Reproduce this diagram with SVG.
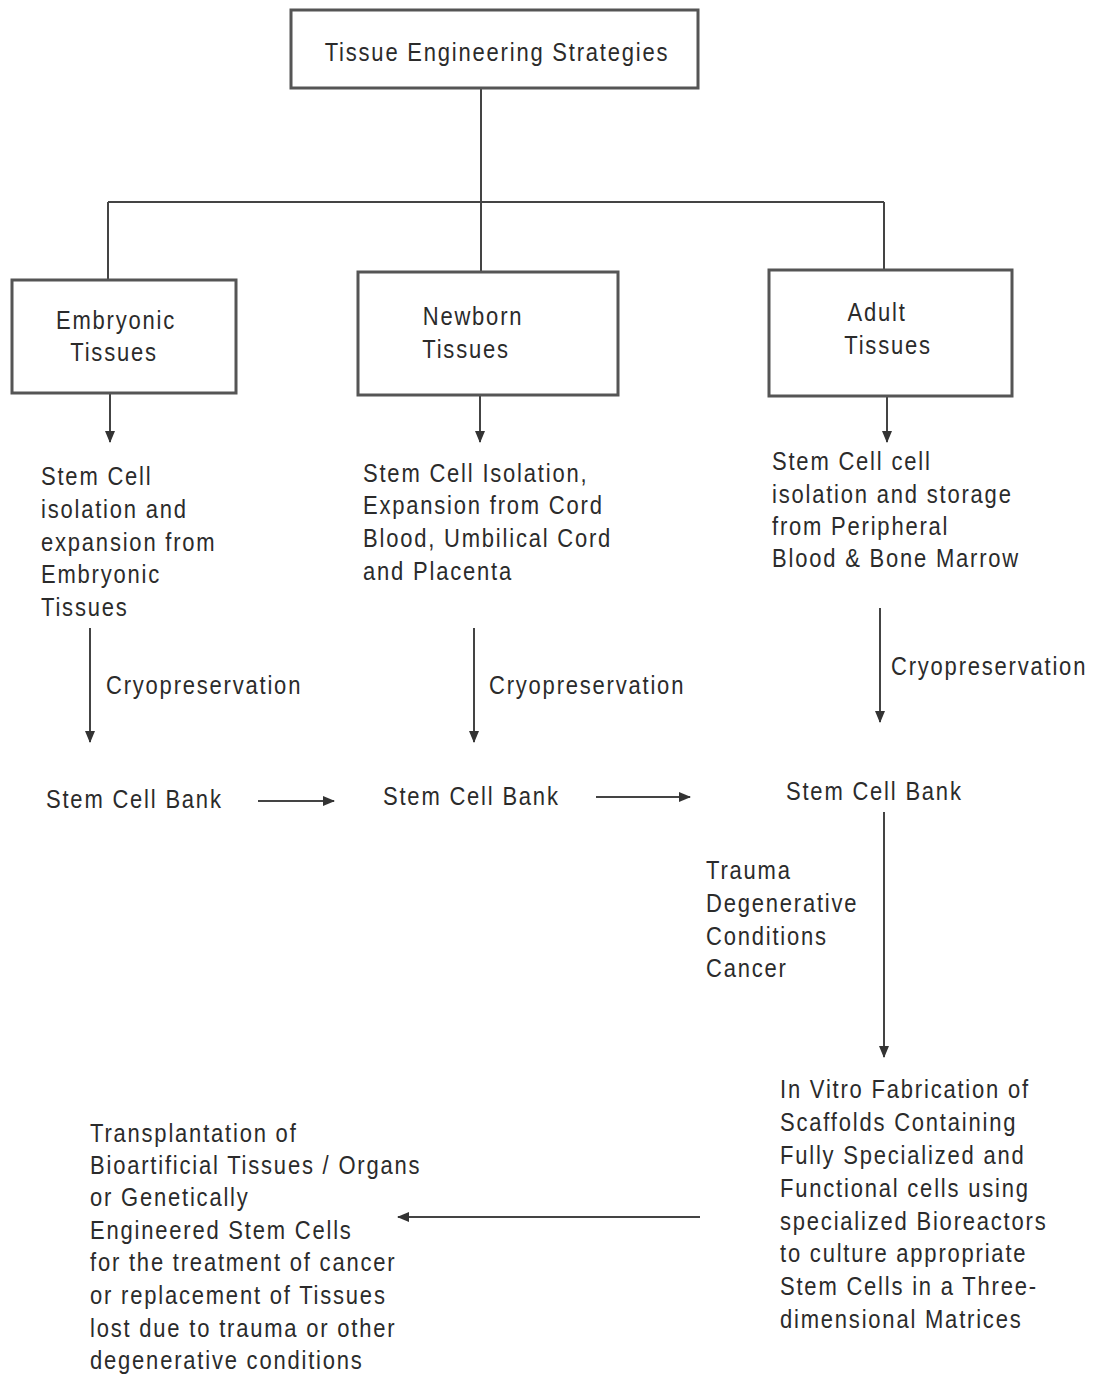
<svg xmlns="http://www.w3.org/2000/svg" width="1094" height="1376" viewBox="0 0 1094 1376">
<defs>
<style>
text{font-family:"Liberation Sans",Arial,sans-serif;font-size:22px;letter-spacing:1.8px;fill:#2b2b2b;}
.m{text-anchor:middle;}
.box{fill:#fff;stroke:#555;stroke-width:3;}
.ln{fill:none;stroke:#444;stroke-width:2;}
.ar{fill:none;stroke:#444;stroke-width:2;marker-end:url(#ah);}
</style>
<marker id="ah" markerWidth="12" markerHeight="10" refX="11" refY="5" orient="auto" markerUnits="userSpaceOnUse">
<path d="M0,0 L12,5 L0,10 Z" fill="#333"/>
</marker>
</defs>
<rect width="1094" height="1376" fill="#fff"/>
<g id="connectors">
<path class="ln" d="M481,88 V202 M108,202 H884 M108,202 V280 M481,202 V272 M884,202 V270"/>
<path class="ar" d="M110,393 V442"/>
<path class="ar" d="M480,395 V442"/>
<path class="ar" d="M887,396 V442"/>
<path class="ar" d="M90,628 V742"/>
<path class="ar" d="M474,628 V742"/>
<path class="ar" d="M880,608 V722"/>
<path class="ar" d="M258,801 H334"/>
<path class="ar" d="M596,797 H690"/>
<path class="ar" d="M884,812 V1057"/>
<path class="ar" d="M700,1217 H398"/>
</g>
<g id="top">
<rect class="box" x="291" y="10" width="407" height="78"/>
<text class="m" transform="translate(497,61) scale(1,1.15)">Tissue Engineering Strategies</text>
</g>
<g id="embryonic">
<rect class="box" x="12" y="280" width="224" height="113"/>
<text class="m" transform="translate(116,329) scale(1,1.15)">Embryonic</text>
<text class="m" transform="translate(114,361) scale(1,1.15)">Tissues</text>
</g>
<g id="newborn">
<rect class="box" x="358" y="272" width="260" height="123"/>
<text class="m" transform="translate(473,325) scale(1,1.15)">Newborn</text>
<text class="m" transform="translate(466,358) scale(1,1.15)">Tissues</text>
</g>
<g id="adult">
<rect class="box" x="769" y="270" width="243" height="126"/>
<text class="m" transform="translate(877,321) scale(1,1.15)">Adult</text>
<text class="m" transform="translate(888,354) scale(1,1.15)">Tissues</text>
</g>
<g id="embryonic-isolation">
<text transform="translate(41,485) scale(1,1.15)">Stem Cell</text>
<text transform="translate(41,518) scale(1,1.15)">isolation and</text>
<text transform="translate(41,551) scale(1,1.15)">expansion from</text>
<text transform="translate(41,583) scale(1,1.15)">Embryonic</text>
<text transform="translate(41,616) scale(1,1.15)">Tissues</text>
</g>
<g id="newborn-isolation">
<text transform="translate(363,482) scale(1,1.15)">Stem Cell Isolation,</text>
<text transform="translate(363,514) scale(1,1.15)">Expansion from Cord</text>
<text transform="translate(363,547) scale(1,1.15)">Blood, Umbilical Cord</text>
<text transform="translate(363,580) scale(1,1.15)">and Placenta</text>
</g>
<g id="adult-isolation">
<text transform="translate(772,470) scale(1,1.15)">Stem Cell cell</text>
<text transform="translate(772,503) scale(1,1.15)">isolation and storage</text>
<text transform="translate(772,535) scale(1,1.15)">from Peripheral</text>
<text transform="translate(772,567) scale(1,1.15)">Blood &amp; Bone Marrow</text>
</g>
<g id="cryo-labels">
<text transform="translate(106,694) scale(1,1.15)">Cryopreservation</text>
<text transform="translate(489,694) scale(1,1.15)">Cryopreservation</text>
<text transform="translate(891,675) scale(1,1.15)">Cryopreservation</text>
</g>
<g id="bank1"><text transform="translate(46,808) scale(1,1.15)">Stem Cell Bank</text></g>
<g id="bank2"><text transform="translate(383,805) scale(1,1.15)">Stem Cell Bank</text></g>
<g id="bank3"><text transform="translate(786,800) scale(1,1.15)">Stem Cell Bank</text></g>
<g id="conditions">
<text transform="translate(706,879) scale(1,1.15)">Trauma</text>
<text transform="translate(706,912) scale(1,1.15)">Degenerative</text>
<text transform="translate(706,945) scale(1,1.15)">Conditions</text>
<text transform="translate(706,977) scale(1,1.15)">Cancer</text>
</g>
<g id="fabrication">
<text transform="translate(780,1098) scale(1,1.15)">In Vitro Fabrication of</text>
<text transform="translate(780,1131) scale(1,1.15)">Scaffolds Containing</text>
<text transform="translate(780,1164) scale(1,1.15)">Fully Specialized and</text>
<text transform="translate(780,1197) scale(1,1.15)">Functional cells using</text>
<text transform="translate(780,1230) scale(1,1.15)">specialized Bioreactors</text>
<text transform="translate(780,1262) scale(1,1.15)">to culture appropriate</text>
<text transform="translate(780,1295) scale(1,1.15)">Stem Cells in a Three-</text>
<text transform="translate(780,1328) scale(1,1.15)">dimensional Matrices</text>
</g>
<g id="transplantation">
<text transform="translate(90,1142) scale(1,1.15)">Transplantation of</text>
<text transform="translate(90,1174) scale(1,1.15)">Bioartificial Tissues / Organs</text>
<text transform="translate(90,1206) scale(1,1.15)">or Genetically</text>
<text transform="translate(90,1239) scale(1,1.15)">Engineered Stem Cells</text>
<text transform="translate(90,1271) scale(1,1.15)">for the treatment of cancer</text>
<text transform="translate(90,1304) scale(1,1.15)">or replacement of Tissues</text>
<text transform="translate(90,1337) scale(1,1.15)">lost due to trauma or other</text>
<text transform="translate(90,1369) scale(1,1.15)">degenerative conditions</text>
</g>
</svg>
